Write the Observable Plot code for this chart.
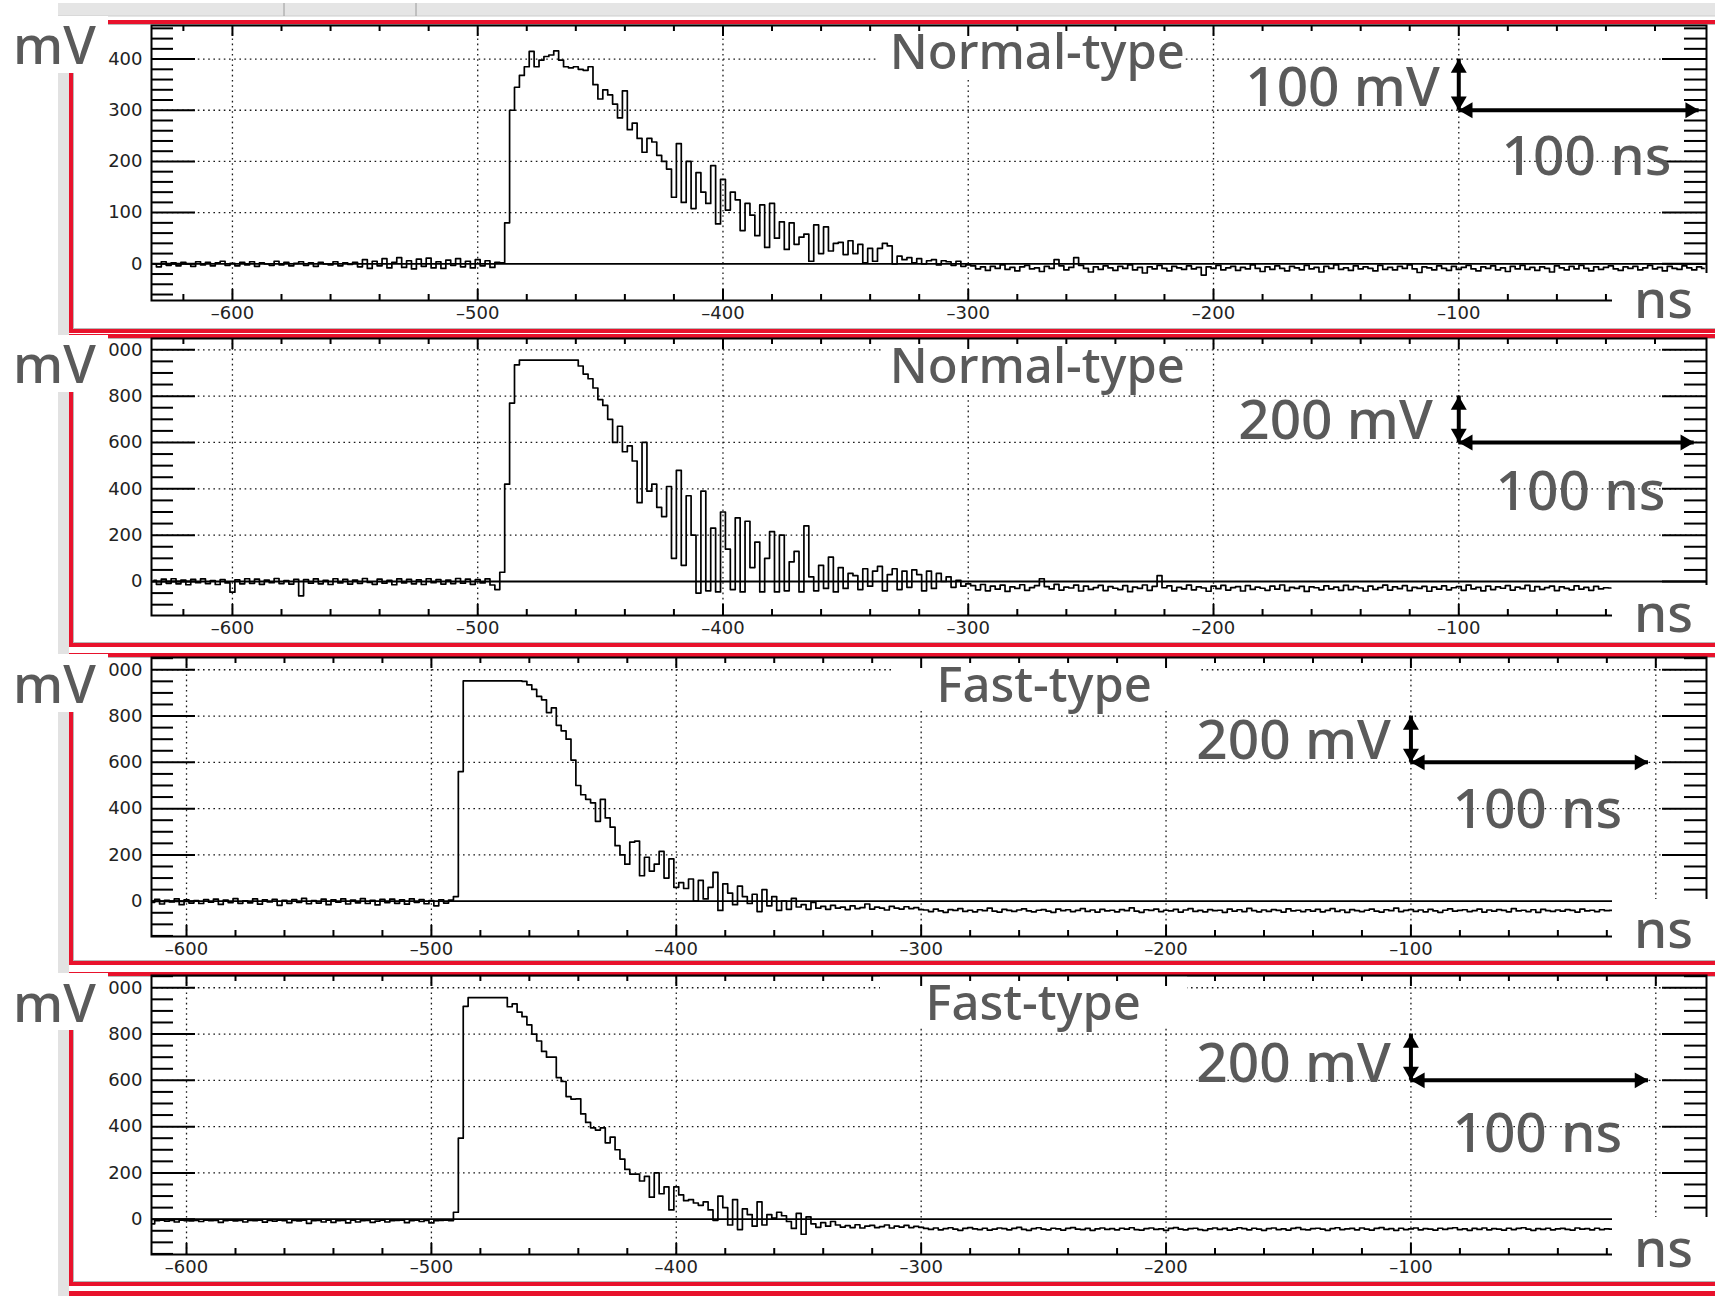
<!DOCTYPE html>
<html><head><meta charset="utf-8">
<script src="https://cdn.jsdelivr.net/npm/d3@7"></script>
<script src="https://cdn.jsdelivr.net/npm/@observablehq/plot@0.6"></script>
<style>
html,body{margin:0;padding:0;background:#fff;overflow:hidden;}
#root{position:relative;width:1715px;height:1296px;overflow:hidden;background:#fff;}
</style></head>
<body><div id="root"></div>
<script>
// ---------------- data (ns sampling step, mV values) ----------------
const step = 2;

// Panel 1 : Normal-type (100 mV scale)
const p1Starts = [-632, -490, -298];
const p1Pre = [0,-6,4,-3,2,-4,3,0,-5,4, -2,3,-4,2,5,-3,1,-4,3,-2, 4,-5,2,0,-3,5,-2,3,-4,1, 4,-3,2,-5,3,0,-2,4,-4,2, -1,3,
  -6,8,-9,5,-4,10,-8,3,12,-7, 6,-10,9,-5,11,-8,4,-9,7,-3, 10,-6,5,-8,8,-4,6,-7,3];
const p1Pulse = [2,80,300,345,368,385,415,385,398,405,408,416,398,385,383,385,380,378,385,350,
  322,340,330,312,285,338,262,275,245,218,245,238,212,200,185,130,235,120,200,108,
  178,140,118,192,78,165,105,140,125,65,118,95,55,115,32,118,50,82,28,80,
  38,52,58,5,76,20,72,25,40,42,18,45,20,38,2,30,5,30,40,35,
  0,15,8,12,2,10,0,6,8,-2,6,4,-3,5,-5,-2];
const p1Tail = [-4,-10,-6,-13,-5,-9,-2,-11,-7,-14, -6,-3,-10,-8,-15,-5,-9,8,-4,-12,
  -7,12,-3,-9,-16,-6,-11,-4,-8,-13, -5,-9,-2,-12,-7,-18,-6,-10,-3,-9,
  -14,-5,-8,-11,-4,-10,-7,-22,-6,-9, -3,-12,-8,-5,-13,-7,-10,-2,-9,-15,
  -6,-11,-4,-9,-14,-5,-8,-12,-3,-10, -7,-16,-5,-9,-2,-11,-8,-13,-4,-10,
  -6,-9,-14,-3,-11,-7,-12,-5,-9,-2, -10,-17,-6,-8,-12,-4,-9,-13,-5,-11,
  -7,-3,-10,-14,-6,-9,-4,-12,-8,-15, -5,-10,-3,-11,-7,-13,-6,-9,-16,-4,
  -8,-12,-5,-10,-3,-9,-14,-6,-11,-7, -4,-10,-13,-6,-9,-5,-12,-8,-3,-10,
  -7,-14,-5,-9,-11,-4,-8,-12,-6,-9];

// Panel 2 : Normal-type (200 mV scale)
const p2Starts = [-632, -490, -298];
const p2Pre = [5,-12,10,-8,12,-10,6,-14,9,-5, 11,-9,4,-13,8,-6,-46,7,-10,12,
  -8,10,-12,6,-5,13,-9,4,-11,9, -62,8,-7,11,-10,5,-13,12,-6,9,
  -11,6,-8,13,-4,-12,10,-7,5,-14, 11,-6,9,-10,7,-13,12,-5,8,-11,
  6,-9,13,-7,10,-12,8,-6,11,-15, -35];
const p2Pulse = [40,420,770,935,955,955,955,955,955,955,955,955,955,955,955,955,930,895,875,835,
  785,760,700,600,670,560,585,520,340,600,390,420,320,280,410,100,480,70,370,200,
  -50,390,-40,230,-45,300,140,-35,275,-45,260,60,170,-45,100,215,-45,200,-40,85,
  130,-45,240,20,-40,70,-30,105,-45,60,-30,35,25,-35,55,-20,45,65,-40,30,
  55,-35,45,-25,50,30,-40,45,-30,35,0,20,-25,5,-20,-10];
const p2Tail = [-18,-36,-13,-40,-20,-33,-16,-43,-23,-30, -14,-38,-26,-18,12,-22,-32,-12,-37,-24,
  -28,-16,-41,-20,-34,-26,-17,-39,-22,-29, -35,-18,-44,-24,-30,-15,-38,-21,25,-27,
  -19,-40,-25,-32,-16,-36,-23,-28,-42,-20, -31,-17,-37,-26,-22,-41,-18,-34,-24,-29,
  -38,-20,-33,-15,-39,-25,-30,-21,-43,-23, -27,-36,-19,-32,-24,-38,-17,-35,-22,-28,
  -41,-20,-34,-26,-16,-37,-23,-31,-18,-39, -25,-30,-21,-42,-24,-33,-19,-36,-27,-22,
  -38,-16,-32,-25,-40,-20,-35,-23,-29,-18, -37,-24,-31,-17,-41,-22,-34,-26,-20,-39,
  -23,-30,-36,-19,-33,-25,-38,-21,-32,-27, -28];

// Panel 3 : Fast-type
const p3Starts = [-614, -490, -298];
const p3Pre = [-5,8,-12,4,-3,10,-15,6,-8,3, -10,7,-4,9,-14,5,-6,11,-9,2,
  -7,10,-13,6,-3,8,-18,4,-9,7, -5,12,-11,3,-8,9,-15,6,-4,10,
  -12,5,-7,11,-10,4,-16,8,-6,9, -9,6,-13,10,-5,7,-11,3,-20,6, -8,5];
const p3Pulse = [20,560,952,952,952,952,952,952,952,952,952,952,952,952,950,935,915,885,870,815,
  835,760,736,700,610,500,460,440,425,345,440,360,320,240,200,160,255,260,110,190,
  130,160,215,100,183,60,80,55,96,0,90,10,60,125,-40,75,35,-15,65,20,
  -10,30,-45,50,-20,20,-40,0,-35,12,-25,-15,-35,-5,-30,-22,-35,-18,-30,-26,
  -36,-20,-32,-28,-12,-34,-26,-30,-38,-22,-30,-34,-24,-32,-28,-36];
const p3Tail = [-38,-45,-34,-42,-48,-36,-40,-32,-44,-39, -46,-37,-41,-30,-43,-47,-35,-40,-44,-38,
  -33,-42,-46,-39,-36,-43,-48,-34,-41,-37, -45,-40,-32,-44,-38,-47,-35,-42,-39,-46,
  -36,-41,-29,-43,-48,-37,-40,-34,-45,-39, -42,-35,-47,-38,-32,-44,-40,-46,-36,-41,
  -39,-48,-34,-43,-37,-45,-31,-41,-46,-38, -44,-36,-40,-47,-33,-42,-39,-45,-37,-43,
  -35,-46,-40,-32,-44,-38,-48,-36,-41,-45, -39,-34,-43,-47,-37,-41,-30,-45,-40,-36,
  -44,-38,-46,-35,-42,-48,-39,-33,-43,-40, -37,-45,-41,-34,-47,-38,-43,-36,-40,-46,
  -32,-42,-39,-45,-37,-48,-35,-41,-44,-38, -43,-36,-40,-47,-34,-42,-39,-45,-37,-41, -40];

// Panel 4 : Fast-type
const p4Starts = [-614, -490, -298];
const p4Pre = [-20,-6,-4,-8,-5,-12,-4,-6,-7,-5, -10,-4,-6,-5,-14,-6,-4,-7,-5,-12,
  -5,-6,-4,-13,-5,-8,-4,-6,-15,-5, -7,-4,-18,-6,-5,-12,-4,-14,-6,-5,
  -16,-4,-12,-6,-5,-14,-8,-4,-12,-6, -5,-4,-15,-6,-4,-10,-5,-16,-6,-5, -4,-6];
const p4Pulse = [30,350,920,957,957,957,957,957,957,957,957,918,930,895,875,840,800,770,725,700,
  700,612,595,530,519,520,455,418,395,385,395,330,355,300,260,215,195,195,165,185,
  95,200,110,140,40,140,105,80,85,70,60,75,40,-5,100,50,-25,85,-45,45,
  20,-30,75,-25,20,5,30,15,-10,-40,25,-65,10,-20,-35,-15,-30,-10,-25,-34,
  -28,-36,-24,-38,-30,-27,-36,-32,-25,-38,-30,-34,-27,-36,-31,-35];
const p4Tail = [-40,-44,-38,-46,-41,-37,-43,-48,-40,-36, -42,-45,-39,-47,-43,-38,-41,-46,-40,-35,
  -44,-48,-41,-37,-43,-46,-39,-42,-47,-40, -36,-43,-45,-40,-48,-42,-38,-44,-41,-46,
  -39,-43,-37,-45,-47,-41,-38,-44,-42,-48, -40,-36,-43,-46,-41,-39,-45,-48,-42,-38,
  -44,-40,-47,-43,-37,-41,-46,-39,-43,-48, -41,-38,-45,-42,-47,-40,-36,-44,-46,-41,
  -39,-43,-48,-41,-37,-45,-42,-40,-46,-38, -43,-47,-40,-36,-44,-41,-48,-39,-45,-42,
  -38,-46,-41,-43,-47,-39,-44,-40,-37,-45, -42,-48,-40,-44,-38,-46,-41,-43,-47,-39,
  -45,-40,-37,-43,-48,-41,-44,-39,-46,-42, -40,-44,-47,-38,-43,-41,-46,-39,-45,-42, -43];

// tick values and labels
const yTicksSmall = [0, 100, 200, 300, 400];
const yTicksLarge = [0, 200, 400, 600, 800, 1000];
const xTickLabels = [-600, -500, -400, -300, -200, -100];
const titles = ["Normal-type", "Normal-type", "Fast-type", "Fast-type"];
const vBarSpan = [[300, 400], [600, 800], [600, 800], [600, 800]];   // mV
const hBarSpan = [[-100, -2], [-100, -4], [-100, -3], [-100, -3]];   // ns
const vBarLabels = ["100 mV", "200 mV", "200 mV", "200 mV"];
const hBarLabel = "100 ns";
const axisUnitY = "mV", axisUnitX = "ns";

const series = [
  [[p1Starts[0], p1Pre], [p1Starts[1], p1Pulse], [p1Starts[2], p1Tail]],
  [[p2Starts[0], p2Pre], [p2Starts[1], p2Pulse], [p2Starts[2], p2Tail]],
  [[p3Starts[0], p3Pre], [p3Starts[1], p3Pulse], [p3Starts[2], p3Tail]],
  [[p4Starts[0], p4Pre], [p4Starts[1], p4Pulse], [p4Starts[2], p4Tail]]
];
const yMajor = [yTicksSmall, yTicksLarge, yTicksLarge, yTicksLarge];

// ---------------- layout (pixels / styling) ----------------
const W = 1715, ML = 151, MR = 9, MT = 30, MB = 50;
const layout = [
  {top: 25, bottom: 300, xDomain: [-633, 1], yDomain: [-71.7, 465.6], majorStep: 100, minorStep: 20,
   titleAt: [-332, 380], box: [-336.6, -211.4, 358.6], vdx: -19, vdy: -4, hdx: 5, hdy: 65,
   red: [20, 333], mvBox: [16, 57, 64], nsBox: [273, 55, 318]},
  {top: 338, bottom: 615, xDomain: [-633, 1], yDomain: [-146.7, 1048.7], majorStep: 200, minorStep: 50,
   titleAt: [-332, 855], box: [-335.4, -211.4, 816], vdx: -26, vdy: -3, hdx: -1, hdy: 68,
   red: [334, 647], mvBox: [335, 57, 383], nsBox: [585, 57, 632]},
  {top: 657, bottom: 936, xDomain: [-614.3, 20.7], yDomain: [-152.5, 1053], majorStep: 200, minorStep: 50,
   titleAt: [-293.7, 858.7], box: [-312.1, -186.7, 820], vdx: -20, vdy: -3.6, hdx: 4, hdy: 66,
   red: [653, 965], mvBox: [654, 58, 703], nsBox: [899, 61, 948]},
  {top: 975, bottom: 1254, xDomain: [-614.3, 20.7], yDomain: [-152.5, 1053], majorStep: 200, minorStep: 50,
   titleAt: [-298.2, 858.7], box: [-316.6, -191.2, 824], vdx: -20, vdy: 2, hdx: 4, hdy: 72,
   red: [972, 1286], mvBox: [973, 57, 1022], nsBox: [1217, 64, 1267]}
];
const RED = "#e8122c";
const annFont = {fontFamily: "Noto Sans", fontSize: 55, fill: "#5a5a5a", fontWeight: 500};
const fmt = d => d < 0 ? "\u2013" + Math.abs(d) : String(d);

const root = document.getElementById("root");

// ---------------- back decorations ----------------
const back = d3.select(root).append("svg").attr("width", W).attr("height", 1296)
  .style("position", "absolute").style("left", "0px").style("top", "0px");
back.append("rect").attr("x", 58).attr("y", 3).attr("width", W - 58).attr("height", 13).attr("fill", "#e5e5e5");
back.append("line").attr("x1", 58).attr("x2", W).attr("y1", 16).attr("y2", 16).attr("stroke", "#cdcdcd");
[284, 416].forEach(x => back.append("line").attr("x1", x).attr("x2", x).attr("y1", 3).attr("y2", 16).attr("stroke", "#9a9a9a"));
back.append("rect").attr("x", 58).attr("y", 16).attr("width", 11).attr("height", 1280).attr("fill", "#e2e2e2");
layout.forEach(L => {
  const [t, b] = L.red;
  back.append("rect").attr("x", 71).attr("y", t + 2).attr("width", W).attr("height", b - t - 4)
    .attr("fill", "none").attr("stroke", RED).attr("stroke-width", 4);
  back.append("rect").attr("x", 73.5).attr("y", t + 4.5).attr("width", W).attr("height", b - t - 9)
    .attr("fill", "none").attr("stroke", "#b8b8b8").attr("stroke-width", 1);
});
back.append("rect").attr("x", 69).attr("y", 1291).attr("width", W).attr("height", 5).attr("fill", RED);

// ---------------- panels ----------------
layout.forEach((L, i) => {
  const ph = L.bottom - L.top;
  const H = ph + MT + MB;
  const [x0, x1] = L.xDomain, [y0, y1] = L.yDomain;
  const kx = (W - ML - MR) / (x1 - x0), ky = ph / (y1 - y0);
  const data = series[i].flatMap(([t0, vals]) => vals.map((v, j) => ({t: t0 + j * step, v})));
  const yMaj = yMajor[i];
  const yMin = d3.range(Math.ceil(y0 / L.minorStep) * L.minorStep, y1, L.minorStep)
    .filter(v => v % L.majorStep !== 0 && v > y0 && v < y1);
  const xMaj = d3.range(-600, 1, 100).filter(v => v > x0 && v < x1 - 5);
  const xMin = d3.range(-640, 41, 20).filter(v => v % 100 !== 0 && v > x0 && v < x1 - 2);
  const vb = vBarSpan[i], hb = hBarSpan[i];
  const dotted = {stroke: "#1a1a1a", strokeWidth: 1.3, strokeDasharray: "1.6,3.6"};
  const tk = {stroke: "#000", strokeWidth: 2};
  const head = {x: d => d[0], y: d => d[1], symbol: "triangle2", r: 7.6, fill: "#000", stroke: "none"};
  const s = 9.1;

  const plot = Plot.plot({
    width: W, height: H,
    marginLeft: ML, marginRight: MR, marginTop: MT, marginBottom: MB,
    x: {domain: L.xDomain, axis: null},
    y: {domain: L.yDomain, axis: null},
    style: {background: "transparent", overflow: "visible", fontFamily: "DejaVu Sans"},
    marks: [
      Plot.ruleX(xMaj, {y1: y0, y2: y1, ...dotted}),
      Plot.ruleY(yMaj.filter(v => v !== 0), {x1: x0, x2: x1, ...dotted}),
      Plot.rect([L.box], {x1: d => d[0], x2: d => d[1], y1: d => d[2], y2: y1, fill: "#fff"}),
      Plot.ruleY([0], {x1: x0, x2: x1, stroke: "#000", strokeWidth: 1.8}),
      Plot.line(data, {x: "t", y: "v", curve: "step", stroke: "#000", strokeWidth: 1.7}),
      Plot.ruleY(yMaj, {x1: x0, x2: x0 + 44 / kx, ...tk}),
      Plot.ruleY(yMin, {x1: x0, x2: x0 + 22 / kx, ...tk}),
      Plot.ruleY(yMaj, {x1: x1 - 44 / kx, x2: x1, ...tk}),
      Plot.ruleY(yMin, {x1: x1 - 22 / kx, x2: x1, ...tk}),
      Plot.ruleX(xMaj, {y1: y0, y2: y0 + 11 / ky, ...tk}),
      Plot.ruleX(xMin, {y1: y0, y2: y0 + 6 / ky, ...tk}),
      Plot.ruleX(xMaj, {y1: y1 - 11 / ky, y2: y1, ...tk}),
      Plot.ruleX(xMin, {y1: y1 - 6 / ky, y2: y1, ...tk}),
      Plot.frame({stroke: "#000", strokeWidth: 2}),
      Plot.text(yMaj, {x: x0, y: d => d, text: fmt, textAnchor: "end", dx: -9, lineAnchor: "middle", fontSize: 18, fill: "#222"}),
      Plot.text(xTickLabels, {x: d => d, y: y0, text: fmt, dy: 13, lineAnchor: "middle", fontSize: 18, fill: "#222"}),
      Plot.text([titles[i]], {x: L.titleAt[0], y: L.titleAt[1], text: d => d, textAnchor: "start", lineAnchor: "bottom", ...annFont, fontSize: 49}),
      Plot.ruleX([hb[0]], {y1: vb[0], y2: vb[1], stroke: "#000", strokeWidth: 4}),
      Plot.ruleY([vb[0]], {x1: hb[0], x2: hb[1], stroke: "#000", strokeWidth: 4}),
      Plot.dot([[hb[0], vb[1]]], {...head, rotate: 0, dy: s}),
      Plot.dot([[hb[0], vb[0]]], {...head, rotate: 180, dy: -s}),
      Plot.dot([[hb[0], vb[0]]], {...head, rotate: -90, dx: s}),
      Plot.dot([[hb[1], vb[0]]], {...head, rotate: 90, dx: -s}),
      Plot.text([vBarLabels[i]], {x: hb[0], y: vb[0], text: d => d, textAnchor: "end", lineAnchor: "bottom", dx: L.vdx, dy: L.vdy, ...annFont}),
      Plot.text([hBarLabel], {x: (hb[0] + 0) / 2, y: vb[0], text: d => d, textAnchor: "middle", lineAnchor: "bottom", dx: L.hdx, dy: L.hdy, ...annFont})
    ]
  });
  plot.style.position = "absolute";
  plot.style.left = "0px";
  plot.style.top = (L.top - MT) + "px";
  root.appendChild(plot);
});

// ---------------- front decorations: unit labels ----------------
const front = d3.select(root).append("svg").attr("width", W).attr("height", 1296)
  .style("position", "absolute").style("left", "0px").style("top", "0px");
layout.forEach(L => {
  const [mt, mh, mb] = L.mvBox;
  front.append("rect").attr("x", 0).attr("y", mt).attr("width", 108).attr("height", mh).attr("fill", "#fff");
  front.append("text").attr("x", 13).attr("y", mb).text(axisUnitY)
    .attr("font-family", "Noto Sans").attr("font-size", 53).attr("font-weight", 500).attr("fill", "#5a5a5a");
  const [nt, nh, nb] = L.nsBox;
  front.append("rect").attr("x", 1612).attr("y", nt).attr("width", W - 1612).attr("height", nh).attr("fill", "#fff");
  front.append("text").attr("x", 1634).attr("y", nb).text(axisUnitX)
    .attr("font-family", "Noto Sans").attr("font-size", 53).attr("font-weight", 500).attr("fill", "#5a5a5a");
});
</script></body></html>
